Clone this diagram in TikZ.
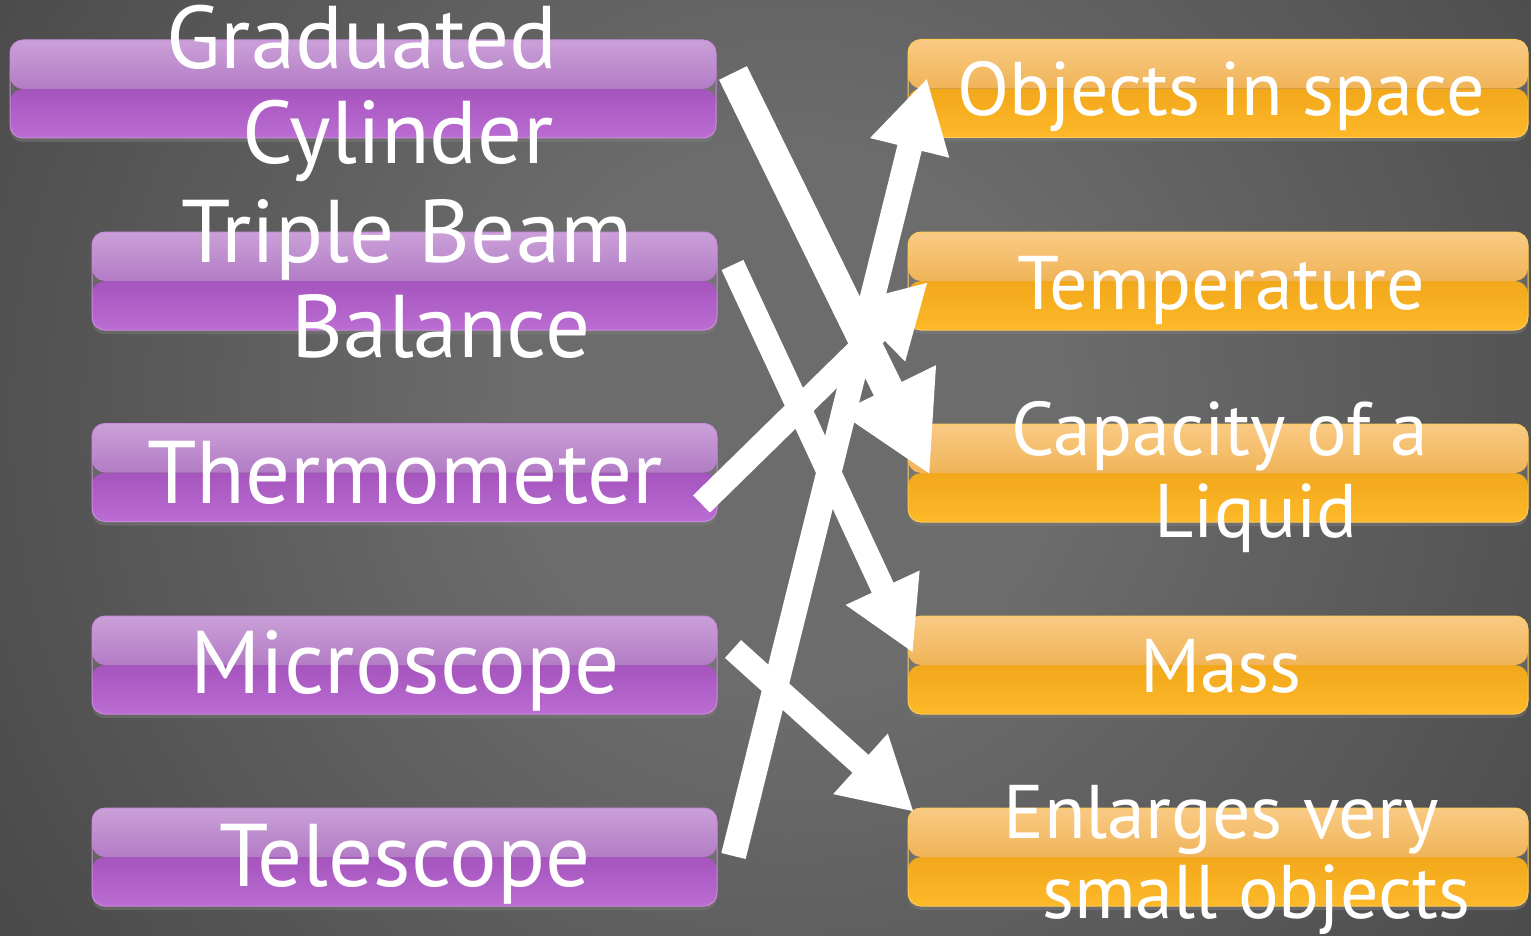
\documentclass[tikz,border=0pt]{standalone}
\usepackage{fontspec}
\setmainfont{PT Sans}
\usetikzlibrary{arrows.meta,calc,shadows}
\definecolor{bgin}{HTML}{6C6C6C}
\definecolor{bgout}{HTML}{262626}
\definecolor{ptopA}{HTML}{CBA0D8}
\definecolor{ptopB}{HTML}{B27CC5}
\definecolor{pbotA}{HTML}{8E3CA6}
\definecolor{pbotB}{HTML}{BB6DD3}
\definecolor{ptrim}{HTML}{C98ADB}
\definecolor{otopA}{HTML}{F9CA84}
\definecolor{otopB}{HTML}{F0B458}
\definecolor{obotA}{HTML}{E6960A}
\definecolor{obotB}{HTML}{FDB92A}
\definecolor{otrim}{HTML}{FFCB55}
\pgfdeclareradialshading{bgshade}{\pgfpoint{0bp}{0bp}}{color(0bp)=(bgin); color(6bp)=(bgin); color(35bp)=(bgout); color(50bp)=(bgout)}
\tikzset{
  pbox/.style={draw=ptrim, line width=1pt, rounded corners=13pt, minimum width=#1,
    minimum height=98pt, inner sep=0pt,
    drop shadow={opacity=0.45, shadow xshift=0pt, shadow yshift=-4pt},
    path picture={
      \shade[top color=pbotA, bottom color=pbotB]
        (path picture bounding box.south west) rectangle (path picture bounding box.east);
      \shade[top color=ptopA, bottom color=ptopB]
        (path picture bounding box.west) rectangle (path picture bounding box.north east);
    }},
  obox/.style={draw=otrim, line width=1pt, rounded corners=13pt, minimum width=#1,
    minimum height=98pt, inner sep=0pt,
    drop shadow={opacity=0.45, shadow xshift=0pt, shadow yshift=-4pt},
    path picture={
      \shade[top color=obotA, bottom color=obotB]
        (path picture bounding box.south west) rectangle (path picture bounding box.east);
      \shade[top color=otopA, bottom color=otopB]
        (path picture bounding box.west) rectangle (path picture bounding box.north east);
    }},
  lt/.style={text=white, font=\fontsize{89}{95}\selectfont, inner sep=0pt, anchor=base},
  rt/.style={text=white, font=\fontsize{76}{83}\selectfont, inner sep=0pt, anchor=base},
  arr/.style={draw=white, line width=24pt, -{Triangle[length=72pt,width=76pt]}},
  bigarr/.style={draw=white, line width=31pt, -{Triangle[length=96pt,width=100pt]}},
}
\begin{document}
\begin{tikzpicture}[x=1pt,y=-1pt]
\useasboundingbox (0,0) rectangle (1531,936);
\begin{scope}
\clip (0,0) rectangle (1531,936);
\shade[shading=bgshade] (790,420) circle (1150pt);
\end{scope}
% left boxes
\node[pbox=706pt] (p1) at (363,89) {};
\node[pbox=625pt] (p2) at (404.5,281) {};
\node[pbox=625pt] (p3) at (404.5,472.5) {};
\node[pbox=625pt] (p4) at (404.5,665) {};
\node[pbox=625pt] (p5) at (404.5,857) {};
% right boxes
\node[obox=620pt] (o1) at (1218,88.5) {};
\node[obox=620pt] (o2) at (1218,281) {};
\node[obox=620pt] (o3) at (1218,473) {};
\node[obox=620pt] (o4) at (1218,665) {};
\node[obox=620pt] (o5) at (1218,857) {};
% left texts
\node[lt] (t1a) at (362,69) {Graduated};
\node[lt] (t1b) at (398,164) {Cylinder};
\node[lt] (t2a) at (407,262) {Triple Beam};
\node[lt] (t2b) at (441,357) {Balance};
\node[lt] (t3) at (405,503) {Thermometer};
\node[lt] (t4) at (405,693) {Microscope};
\node[lt] (t5) at (405,886) {Telescope};
% right texts
\node[rt] (u1) at (1221,116) {Objects in space};
\node[rt] (u2) at (1221,309) {Temperature};
\node[rt] (u3a) at (1220,455) {Capacity of a};
\node[rt] (u3b) at (1256,537) {Liquid};
\node[rt] (u4) at (1221,692) {Mass};
\node[rt] (u5a) at (1221,838) {Enlarges very};
\node[rt] (u5b) at (1256,918) {small objects};
% arrow ends
\coordinate (gS) at (733,73);    \coordinate (gE) at (930,475);
\coordinate (bS) at (732.5,265); \coordinate (bE) at (913,653);
\coordinate (hS) at (701.5,504); \coordinate (hE) at (928,282);
\coordinate (mS) at (733,649);   \coordinate (mE) at (914,812);
\coordinate (sS) at (733.5,856); \coordinate (sE) at (927,78);
\draw[bigarr] (gS) -- (gE);
\draw[arr] (bS) -- (bE);
\draw[arr] (hS) -- (hE);
\draw[arr] (mS) -- (mE);
\draw[arr, line width=25pt] (sS) -- (sE);
\end{tikzpicture}
\end{document}
